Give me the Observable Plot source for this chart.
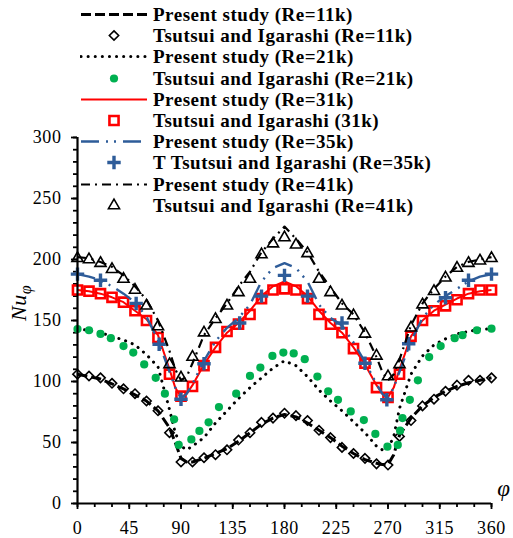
<!DOCTYPE html>
<html><head><meta charset="utf-8">
<script src="https://cdn.jsdelivr.net/npm/d3@7"></script>
<script src="https://cdn.jsdelivr.net/npm/@observablehq/plot@0.6"></script>
<style>
html,body{margin:0;padding:0;background:#fff;}
#wrap{position:relative;width:513px;height:538px;overflow:hidden;}
#legend{position:absolute;left:80px;top:4px;font-family:"Liberation Serif","Times New Roman",serif;font-weight:bold;font-size:19px;letter-spacing:0.5px;color:#000;}
.row{display:flex;align-items:center;height:21.2px;}
.row svg{flex:none;}
.row span{margin-left:5px;white-space:nowrap;line-height:21px;}
#chart svg text{letter-spacing:0.6px;}
</style></head>
<body><div id="wrap"><div id="chart"></div><div id="legend"></div></div>
<script>
// ---- data ----
const xTicks = [0,45,90,135,180,225,270,315,360];
const yTicks = [0,50,100,150,200,250,300];

// grid for the "Present study" curves (phi, degrees)
const phiLine = [0,10,20,30,40,50,60,70,80,85,90,95,100,110,120,130,140,150,160,170,180,190,200,210,220,230,240,250,260,265,270,275,280,290,300,310,320,330,340,350,360];
const present11k = [106,104,102,98,94,89,84,76,62,50,37,34,34,37,41,45,51,58,65,70,73,71,66,60,54,47,41,36,33,32,32,40,56,70,80,87,92,96,99,101,103];
const present21k = [143,142,140,137,134,130,122,112,77,58,47,44,47,54,66,76,86,95,103,111,117,113,104,93,84,76,67,58,47,44,45,55,78,106,121,130,135,139,141,143,143];
const present31k = [175,174,172,169,165,158,151,138,110,95,87,90,97,114,128,140,148,158,170,178,182,178,170,158,148,140,128,114,97,90,87,95,110,137,150,158,163,168,172,174,175];
const present35k = [188,186,183,178,172,165,153,134,108,95,86,90,98,117,133,144,152,163,182,193,197,193,182,163,152,146,132,116,98,90,86,95,108,133,152,163,170,176,182,186,188];
const present41k = [202,201,198,194,187,178,167,150,125,110,101,104,115,138,152,164,178,190,206,217,227,217,206,190,177,164,155,140,120,108,101,106,118,146,164,176,186,194,198,200,202];

// Tsutsui and Igarashi data (every 10 degrees)
const phiExp = [0,10,20,30,40,50,60,70,80,90,100,110,120,130,140,150,160,170,180,190,200,210,220,230,240,250,260,270,280,290,300,310,320,330,340,350,360];
const exp11k = [106,104.5,103,98.5,94,90,84,76,58,34,34,37.5,40,44,52,58,66.5,70,74,72,68,60,54,46,41,37,32.5,31.5,55,68,80,85.5,92,97,101,101,103];
const exp31k = [175,174,172,169,165,158,150,136,106,88,96,113,128,141,147,155,168,175,176,175,168,155,147,140,127,115,95,87,106,137,150,158,162,167,172,175,175];
const exp41k = [201,200,197,192,184,175,162,145,114,103,120,140,151,162,173,184,204,213,218,212,205,184,173,162,154,139,121,104,114,144,163,174,185,193,197,199,201];

// Re=21k experimental points (irregular spacing)
const phiExp21k = [0,10,20,29,40,48.5,58,68,76,84,88,99,106,114,123,138,150,159,169.5,179,188,197.6,208.6,218,226.5,237.6,249,259,269.5,278.5,280.5,282.6,289,296,305.8,315.8,328,334.8,347.3,360];
const exp21k = [143,142,139,135.5,129,123.7,114,103,90,69,48,52.5,59.5,66.5,79,90,104.6,111.4,121,123.7,123,118.3,104,92,85,75.5,68.4,57,46.6,48,59.7,70,85,101,120,129,135.5,138,142,143.3];

// Re=35k experimental points
const phiExp35k = [0,20,51,71,90,110,141,160,180,200,230,250,269,288,320,340,360];
const exp35k = [188,183,164,130.5,85.5,114.5,148,170,187,170,148,115,85,131,168.6,183,188];

const legendLabels = [
  "Present study (Re=11k)",
  "Tsutsui and Igarashi (Re=11k)",
  "Present study (Re=21k)",
  "Tsutsui and Igarashi (Re=21k)",
  "Present study (Re=31k)",
  "Tsutsui and Igarashi (31k)",
  "Present study (Re=35k)",
  "T Tsutsui and Igarashi (Re=35k)",
  "Present study (Re=41k)",
  "Tsutsui and Igarashi (Re=41k)"
];

// ---- styles ----
const BLUE = "#2e5c99", RED = "#ff0000", GREEN = "#00b050";
const toRows = (xs, ys) => xs.map((p, i) => ({phi: p, v: ys[i]}));

const styles = [
  {type:"line", data: toRows(phiLine, present11k), stroke:"#000", strokeWidth:3, dash:"10,4", cap:"butt"},
  {type:"dot", data: toRows(phiExp, exp11k), symbol:"diamond2", r:4.2, stroke:"#000", strokeWidth:1.6, fill:"none"},
  {type:"line", data: toRows(phiLine, present21k), stroke:"#000", strokeWidth:3, dash:"0.1,7", cap:"round"},
  {type:"dot", data: toRows(phiExp21k, exp21k), symbol:"circle", r:4.1, stroke:"none", fill:GREEN},
  {type:"line", data: toRows(phiLine, present31k), stroke:RED, strokeWidth:2, dash:null, cap:"butt"},
  {type:"dot", data: toRows(phiExp, exp31k), symbol:"square2", r:5.8, stroke:RED, strokeWidth:2.6, fill:"none"},
  {type:"line", data: toRows(phiLine, present35k), stroke:BLUE, strokeWidth:2.4, dash:"18,7,2,6,2,7", cap:"butt"},
  {type:"dot", data: toRows(phiExp35k, exp35k), symbol:"plus", r:4.4, stroke:BLUE, strokeWidth:3.4, fill:"none"},
  {type:"line", data: toRows(phiLine, present41k), stroke:"#000", strokeWidth:2.2, dash:"9,5,2,5", cap:"butt"},
  {type:"dot", data: toRows(phiExp, exp41k), symbol:"triangle2", r:5.3, stroke:"#000", strokeWidth:1.6, fill:"none"}
];

const seriesMarks = styles.map(s => s.type === "line"
  ? Plot.line(s.data, {x:"phi", y:"v", stroke:s.stroke, strokeWidth:s.strokeWidth, strokeDasharray:s.dash, strokeLinecap:s.cap})
  : Plot.dot(s.data, {x:"phi", y:"v", symbol:s.symbol, r:s.r, stroke:s.stroke, strokeWidth:s.strokeWidth, fill:s.fill}));

const plot = Plot.plot({
  width: 513, height: 538,
  marginLeft: 77, marginRight: 22, marginTop: 137, marginBottom: 35,
  x: {domain: [0, 360]},
  y: {domain: [0, 300]},
  style: {fontFamily: "'Liberation Serif','Times New Roman',serif", fontSize: "18px", color: "#000", background: "transparent", overflow: "visible"},
  marks: [
    Plot.axisX(d3.range(0, 361, 15), {tickSize: 4, text: null, strokeWidth: 1.8, label: null}),
    Plot.axisX(xTicks, {tickSize: 6, tickPadding: 12, strokeWidth: 1.8, fontSize: 18, label: null}),
    Plot.axisY(d3.range(0, 301, 10), {tickSize: 4, text: null, strokeWidth: 1.8, label: null}),
    Plot.axisY(yTicks, {tickSize: 6, tickPadding: 10, strokeWidth: 1.8, fontSize: 18, label: null}),
    ...seriesMarks,
    Plot.ruleX([0], {strokeWidth: 2.2}),
    Plot.ruleY([0], {strokeWidth: 2.2})
  ]
});
document.getElementById("chart").appendChild(plot);

// axis titles
const svg = d3.select(plot);
const xs = plot.scale("x"), ys = plot.scale("y");
const yl = svg.append("text")
  .attr("transform", `translate(${xs.apply(0) - 51},${ys.apply(164)}) rotate(-90)`)
  .attr("text-anchor", "middle")
  .attr("font-family", "'Liberation Serif','Times New Roman',serif")
  .attr("font-style", "italic").attr("font-size", 22);
yl.append("tspan").text("Nu");
yl.append("tspan").attr("font-size", 16).attr("dy", 5).text("φ");
svg.append("text")
  .attr("x", xs.apply(360) + 13).attr("y", ys.apply(0) - 7)
  .attr("text-anchor", "middle")
  .attr("font-family", "'Liberation Serif','Times New Roman',serif")
  .attr("font-style", "italic").attr("font-size", 23)
  .text("φ");

// legend
const legend = d3.select("#legend");
styles.forEach((s, i) => {
  const row = legend.append("div").attr("class", "row");
  const sw = row.append("svg").attr("width", 68).attr("height", 21);
  if (s.type === "line") {
    sw.append("line").attr("x1", 1).attr("x2", 67).attr("y1", 10.5).attr("y2", 10.5)
      .attr("stroke", s.stroke).attr("stroke-width", s.strokeWidth)
      .attr("stroke-dasharray", s.dash).attr("stroke-linecap", s.cap);
  } else {
    const symMap = {diamond2: d3.symbolDiamond2, circle: d3.symbolCircle, square2: d3.symbolSquare2, plus: d3.symbolPlus, triangle2: d3.symbolTriangle2};
    const sz = s.r * s.r * Math.PI;
    sw.append("path").attr("transform", "translate(34,10.5)")
      .attr("d", d3.symbol(symMap[s.symbol], sz)())
      .attr("fill", s.fill).attr("stroke", s.stroke).attr("stroke-width", s.strokeWidth);
  }
  row.append("span").text(legendLabels[i]);
});
</script>
</body></html>
